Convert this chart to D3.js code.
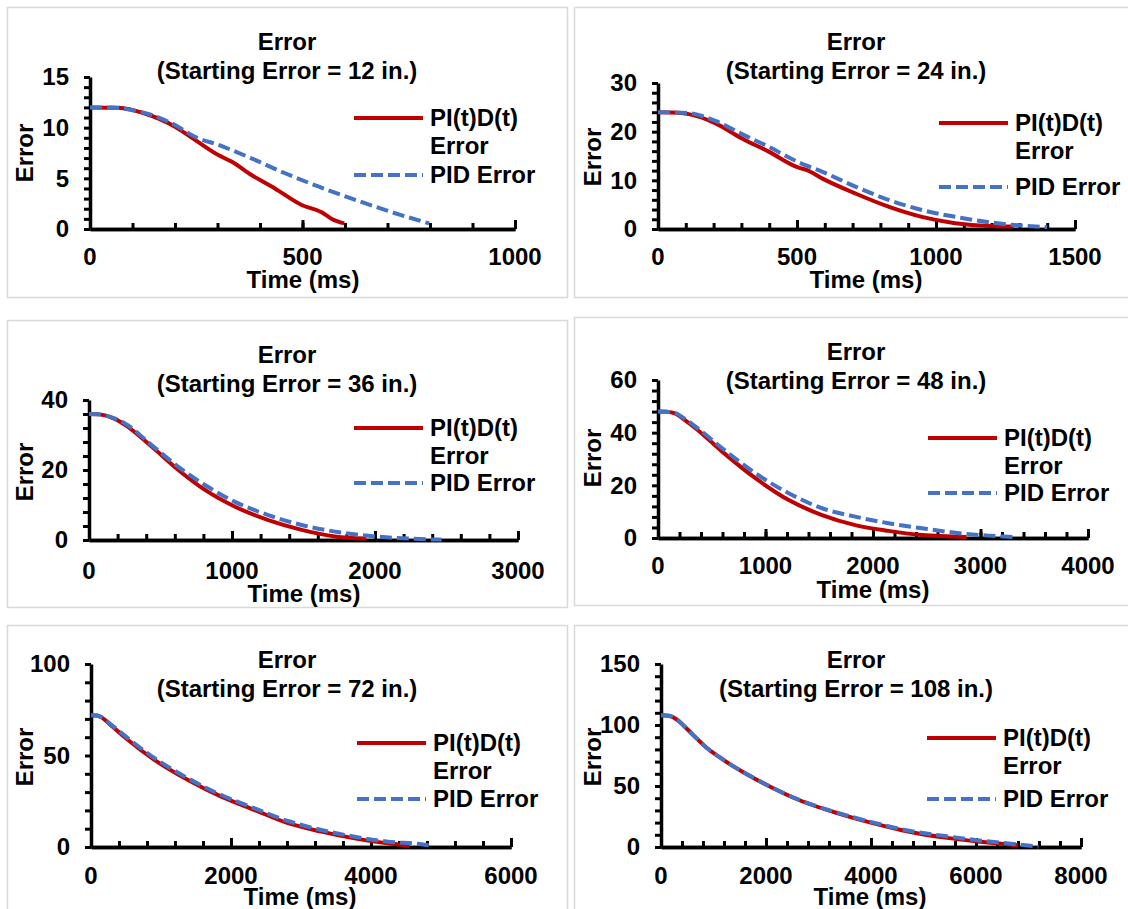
<!DOCTYPE html>
<html>
<head>
<meta charset="utf-8">
<script src="https://cdn.jsdelivr.net/npm/d3@7"></script>
<style>
    body { margin: 0; background: #fff; }
    svg text { font-family: Arial, "Liberation Sans", sans-serif; font-weight: bold; fill: #000; }
</style>
</head>
<body>
<svg id="chart" width="1128" height="909"></svg>
<script>
// ---- data (time in ms, error in inches) ----
// starting error 12
var pitdT12 = [0, 67, 129, 200, 247, 302, 333, 380, 435, 498, 545, 569, 598];
var pitdE12 = [12, 11.97, 11.4, 10.1, 8.8, 7.3, 6.65, 5.33, 4.0, 2.37, 1.65, 0.99, 0.55];
var pidT12 = [0, 50, 98, 145, 200, 247, 302, 380, 459, 537, 616, 694, 798];
var pidE12 = [12, 11.98, 11.75, 11.25, 10.27, 9.1, 8.3, 6.97, 5.5, 4.2, 3.0, 1.88, 0.55];
// starting error 24
var pitdT24 = [0, 50, 111, 207, 302, 398, 506, 536, 590, 710, 829, 949, 1069, 1189, 1280];
var pitdE24 = [24, 23.95, 23.6, 21.7, 18.6, 15.9, 12.6, 12.1, 10.4, 7.3, 4.6, 2.5, 1.2, 0.6, 0.5];
var pidT24 = [0, 50, 111, 207, 302, 398, 506, 590, 710, 829, 949, 1069, 1189, 1309, 1400];
var pidE24 = [24, 23.97, 23.8, 22.2, 19.5, 16.9, 13.7, 11.8, 8.7, 6.0, 3.9, 2.5, 1.4, 0.7, 0.4];
// starting error 36
var pitdT36 = [0, 60, 112, 180, 252, 438, 625, 811, 1021, 1254, 1487, 1720, 1940];
var pitdE36 = [36, 35.95, 35.6, 34.6, 32.9, 26.7, 20, 14.3, 9.5, 5.7, 2.9, 1.0, 0.4];
var pidT36 = [0, 60, 112, 180, 252, 438, 625, 811, 1021, 1254, 1487, 1720, 1953, 2186, 2466];
var pidE36 = [36, 35.95, 35.6, 34.7, 33.3, 27.1, 20.9, 15.7, 10.9, 7.1, 4.3, 2.4, 1.2, 0.5, 0.1];
// starting error 48
var pitdT48 = [0, 80, 163, 250, 349, 597, 906, 1216, 1526, 1835, 2145, 2455, 2870];
var pitdE48 = [48, 47.9, 47.2, 44.8, 41.7, 32.8, 22.7, 14.4, 8.7, 4.9, 2.7, 1.1, 0.4];
var pidT48 = [0, 80, 163, 250, 349, 597, 906, 1216, 1526, 1835, 2145, 2455, 2765, 3075, 3340];
var pidE48 = [48, 47.9, 47.4, 45.2, 42.3, 34.1, 24.6, 17, 11.3, 8.1, 5.6, 3.7, 2.0, 0.9, 0.3];
// starting error 72
var pitdT72 = [0, 80, 147, 300, 529, 910, 1386, 1861, 2339, 2814, 3290, 3767, 4243, 4550];
var pitdE72 = [72, 71.8, 70.9, 66, 58.5, 47.5, 36.6, 27.5, 20.2, 13, 8.4, 4.7, 2.0, 0.6];
var pidT72 = [0, 80, 147, 300, 529, 910, 1386, 1861, 2339, 2814, 3290, 3767, 4243, 4719, 4870];
var pidE72 = [72, 71.8, 71, 66.5, 59.4, 48.5, 37.5, 28.4, 21.1, 14.2, 9.3, 5.6, 2.9, 1.5, 0.6];
// starting error 108
var pitdT108 = [0, 150, 300, 444, 600, 851, 1100, 1327, 1600, 1940, 2686, 3369, 4050, 4730, 5410, 6090, 6800];
var pitdE108 = [108, 107.5, 104.5, 99, 92.3, 82, 74, 67.5, 60.5, 52.5, 37.5, 27.6, 19.4, 12.5, 7.7, 4.3, 1.4];
var pidT108 = [0, 150, 300, 444, 600, 851, 1100, 1327, 1600, 1940, 2686, 3369, 4050, 4730, 5410, 6090, 6770, 7190];
var pidE108 = [108, 107.5, 104.5, 99, 92.3, 82, 74, 67.5, 60.6, 52.6, 37.7, 28.0, 20.0, 13.3, 9.0, 5.2, 2.2, 0.3];

// axis settings per panel
var startErrors = [12, 24, 36, 48, 72, 108];
var xMaxes = [1000, 1500, 3000, 4000, 6000, 8000];
var xMajors = [500, 500, 1000, 1000, 2000, 2000];
var yMaxes = [15, 30, 40, 60, 100, 150];
var yMajors = [5, 10, 20, 20, 50, 50];
var legendNames = ["PI(t)D(t)", "Error", "PID Error"];

var series = [
    [pitdT12, pitdE12, pidT12, pidE12],
    [pitdT24, pitdE24, pidT24, pidE24],
    [pitdT36, pitdE36, pidT36, pidE36],
    [pitdT48, pitdE48, pidT48, pidE48],
    [pitdT72, pitdE72, pidT72, pidE72],
    [pitdT108, pitdE108, pidT108, pidE108]
];

// layout of each panel on the page (pixels)
var layout = [
    {box: [7, 7, 560, 290], plot: [90, 77, 515, 229], title: [287, 42], xlab: 257, xtitle: [303, 280], ytitle: [25, 153], leg: [354, 118, 175]},
    {box: [574, 7, 560, 290], plot: [658, 83, 1075, 229], title: [856, 42], xlab: 257, xtitle: [866, 280], ytitle: [593, 157], leg: [939, 123, 187]},
    {box: [7, 320, 560, 287], plot: [89, 400, 518, 540], title: [287, 355], xlab: 571, xtitle: [304, 594], ytitle: [25, 472], leg: [354, 428, 483]},
    {box: [574, 317, 560, 288], plot: [658, 380, 1088, 538], title: [856, 352], xlab: 566, xtitle: [873, 590], ytitle: [593, 458], leg: [928, 438, 493]},
    {box: [7, 625, 560, 300], plot: [91, 664, 511, 847], title: [287, 660], xlab: 876, xtitle: [300, 897], ytitle: [25, 757], leg: [357, 743, 799]},
    {box: [574, 625, 560, 300], plot: [661, 664, 1081, 847], title: [856, 660], xlab: 876, xtitle: [870, 897], ytitle: [593, 757], leg: [927, 738, 799]}
];

var RED = "#C00000", BLUE = "#4472C4";
var FS = 24;
var LW = 4;
var DASH = "12,5";

var svg = d3.select("#chart");

function toPoints(ts, es){
    return ts.map(function(t, i){ return [t, es[i]]; });
}

function drawPanel(i){
    var L = layout[i];
    var g = svg.append("g").attr("class", "panel");

    // frame
    g.append("rect")
        .attr("x", L.box[0] + 0.5).attr("y", L.box[1] + 0.5)
        .attr("width", L.box[2]).attr("height", L.box[3])
        .attr("fill", "none").attr("stroke", "#d9d9d9").attr("stroke-width", 1.5);

    var x = d3.scaleLinear().domain([0, xMaxes[i]]).range([L.plot[0], L.plot[2]]);
    var y = d3.scaleLinear().domain([0, yMaxes[i]]).range([L.plot[3], L.plot[1]]);

    var xMinor = d3.range(0, xMaxes[i] + 1e-9, xMajors[i] / 5);
    var xMajor = d3.range(0, xMaxes[i] + 1e-9, xMajors[i]);
    var yMinor = d3.range(0, yMaxes[i] + 1e-9, yMajors[i] / 5);
    var yMajor = d3.range(0, yMaxes[i] + 1e-9, yMajors[i]);

    // x axis: ticks point up into the plot
    var xg = g.append("g").attr("transform", "translate(0," + L.plot[3] + ")");
    xg.call(d3.axisTop(x).tickValues(xMinor).tickSize(6).tickSizeOuter(0).tickFormat(""));
    xg.append("g").call(d3.axisTop(x).tickValues(xMajor).tickSize(9).tickSizeOuter(0).tickFormat(""));
    xg.selectAll(".domain").attr("stroke", "#000").attr("stroke-width", 3.5);
    xg.selectAll(".tick line").attr("stroke", "#000").attr("stroke-width", 3);
    g.selectAll(".xlab").data(xMajor).enter().append("text")
        .attr("x", function(d){ return x(d); })
        .attr("y", L.xlab).attr("dy", "0.35em")
        .attr("text-anchor", "middle").style("font-size", FS + "px")
        .text(function(d){ return d; });

    // y axis: minor ticks outside
    var yg = g.append("g").attr("transform", "translate(" + L.plot[0] + ",0)");
    yg.call(d3.axisLeft(y).tickValues(yMinor).tickSize(6).tickSizeOuter(0).tickFormat(""));
    yg.selectAll(".domain").attr("stroke", "#000").attr("stroke-width", 3.5);
    yg.selectAll(".tick line").attr("stroke", "#000").attr("stroke-width", 3);
    g.selectAll(".ylab").data(yMajor).enter().append("text")
        .attr("x", L.plot[0] - 21)
        .attr("y", function(d){ return y(d); }).attr("dy", "0.35em")
        .attr("text-anchor", "end").style("font-size", FS + "px")
        .text(function(d){ return d; });

    // titles
    g.append("text").attr("x", L.title[0]).attr("y", L.title[1]).attr("dy", "0.35em")
        .attr("text-anchor", "middle").style("font-size", FS + "px").text("Error");
    g.append("text").attr("x", L.title[0]).attr("y", L.title[1] + 29).attr("dy", "0.35em")
        .attr("text-anchor", "middle").style("font-size", FS + "px")
        .text("(Starting Error = " + startErrors[i] + " in.)");
    g.append("text").attr("x", L.xtitle[0]).attr("y", L.xtitle[1]).attr("dy", "0.35em")
        .attr("text-anchor", "middle").style("font-size", FS + "px").text("Time (ms)");
    g.append("text")
        .attr("transform", "translate(" + L.ytitle[0] + "," + L.ytitle[1] + ") rotate(-90)")
        .attr("dy", "0.35em").attr("text-anchor", "middle").style("font-size", FS + "px").text("Error");

    // curves: red underneath, dashed blue on top
    var line = d3.line()
        .x(function(d){ return x(d[0]); })
        .y(function(d){ return y(d[1]); })
        .curve(d3.curveMonotoneX);
    var s = series[i];
    g.append("path").datum(toPoints(s[0], s[1]))
        .attr("d", line).attr("fill", "none").attr("stroke", RED)
        .attr("stroke-width", LW);
    g.append("path").datum(toPoints(s[2], s[3]))
        .attr("d", line).attr("fill", "none").attr("stroke", BLUE)
        .attr("stroke-width", LW).attr("stroke-dasharray", DASH);

    // legend
    var lx = L.leg[0];
    g.append("line").attr("x1", lx).attr("x2", lx + 69).attr("y1", L.leg[1]).attr("y2", L.leg[1])
        .attr("stroke", RED).attr("stroke-width", LW);
    g.append("line").attr("x1", lx).attr("x2", lx + 69).attr("y1", L.leg[2]).attr("y2", L.leg[2])
        .attr("stroke", BLUE).attr("stroke-width", LW).attr("stroke-dasharray", DASH);
    g.append("text").attr("x", lx + 76).attr("y", L.leg[1]).attr("dy", "0.35em")
        .style("font-size", FS + "px").text(legendNames[0]);
    g.append("text").attr("x", lx + 76).attr("y", L.leg[1] + 28).attr("dy", "0.35em")
        .style("font-size", FS + "px").text(legendNames[1]);
    g.append("text").attr("x", lx + 76).attr("y", L.leg[2]).attr("dy", "0.35em")
        .style("font-size", FS + "px").text(legendNames[2]);
}

for (var i = 0; i < 6; i++) {
    drawPanel(i);
}
</script>
</body>
</html>
